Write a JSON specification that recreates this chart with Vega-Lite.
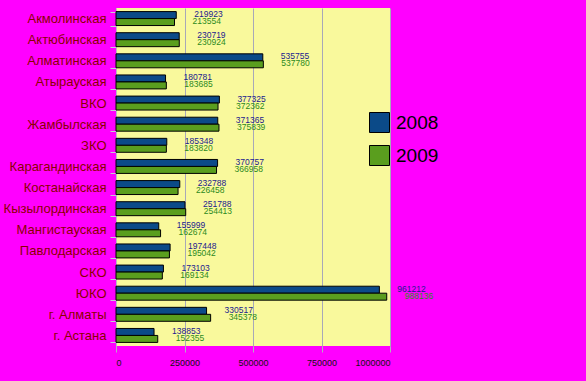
{
  "$schema": "https://vega.github.io/schema/vega-lite/v6.json",
  "autosize": "none",
  "width": 274,
  "height": 338,
  "padding": {"left": 116, "top": 8, "right": 196, "bottom": 35},
  "background": "#ff00ff",
  "view": {"fill": "#f9f99c", "stroke": null},
  "data": {"values": [
    {"region": "Акмолинская", "year": "2008", "value": 219923},
    {"region": "Акмолинская", "year": "2009", "value": 213554},
    {"region": "Актюбинская", "year": "2008", "value": 230719},
    {"region": "Актюбинская", "year": "2009", "value": 230924},
    {"region": "Алматинская", "year": "2008", "value": 535755},
    {"region": "Алматинская", "year": "2009", "value": 537780},
    {"region": "Атырауская", "year": "2008", "value": 180781},
    {"region": "Атырауская", "year": "2009", "value": 183685},
    {"region": "ВКО", "year": "2008", "value": 377325},
    {"region": "ВКО", "year": "2009", "value": 372362},
    {"region": "Жамбылская", "year": "2008", "value": 371365},
    {"region": "Жамбылская", "year": "2009", "value": 375839},
    {"region": "ЗКО", "year": "2008", "value": 185348},
    {"region": "ЗКО", "year": "2009", "value": 183820},
    {"region": "Карагандинская", "year": "2008", "value": 370757},
    {"region": "Карагандинская", "year": "2009", "value": 366958},
    {"region": "Костанайская", "year": "2008", "value": 232788},
    {"region": "Костанайская", "year": "2009", "value": 226458},
    {"region": "Кызылординская", "year": "2008", "value": 251788},
    {"region": "Кызылординская", "year": "2009", "value": 254413},
    {"region": "Мангистауская", "year": "2008", "value": 155999},
    {"region": "Мангистауская", "year": "2009", "value": 162674},
    {"region": "Павлодарская", "year": "2008", "value": 197448},
    {"region": "Павлодарская", "year": "2009", "value": 195042},
    {"region": "СКО", "year": "2008", "value": 173103},
    {"region": "СКО", "year": "2009", "value": 169134},
    {"region": "ЮКО", "year": "2008", "value": 961212},
    {"region": "ЮКО", "year": "2009", "value": 988136},
    {"region": "г. Алматы", "year": "2008", "value": 330517},
    {"region": "г. Алматы", "year": "2009", "value": 345378},
    {"region": "г. Астана", "year": "2008", "value": 138853},
    {"region": "г. Астана", "year": "2009", "value": 152355}
  ]},
  "encoding": {
    "y": {
      "field": "region", "type": "nominal", "sort": null, "title": null,
      "scale": {"paddingInner": 0.34, "paddingOuter": 0.17},
      "axis": {
        "labelFont": "Liberation Sans", "labelFontSize": 13, "labelColor": "#8b0000",
        "labelPadding": 4, "tickBand": "extent", "tickSize": 6, "tickColor": "#c8c8d8",
        "domainColor": "#b8b8c8", "grid": false
      }
    },
    "yOffset": {"field": "year", "type": "nominal"},
    "x": {
      "field": "value", "type": "quantitative", "title": null,
      "scale": {"domain": [0, 1000000], "nice": false},
      "axis": {
        "values": [0, 250000, 500000, 750000, 1000000], "format": "d",
        "labelFont": "Liberation Sans", "labelFontSize": 9, "labelColor": "#111111",
        "labelPadding": 6, "tickSize": 6, "tickColor": "#b0b0c0", "domain": false,
        "grid": true, "gridColor": "#a8a8b8", "gridOpacity": 1
      }
    }
  },
  "layer": [
    {
      "mark": {"type": "bar", "stroke": "#000000", "strokeWidth": 1},
      "encoding": {
        "color": {
          "field": "year", "type": "nominal",
          "scale": {"range": ["#0b4a88", "#5a9e1e"]},
          "legend": {
            "title": null, "orient": "none", "legendX": 253, "legendY": 104,
            "symbolType": "square", "symbolSize": 400, "symbolStrokeColor": "#000000",
            "symbolStrokeWidth": 1, "symbolOpacity": 1, "rowPadding": 8, "padding": 0,
            "labelFont": "Liberation Sans", "labelFontSize": 19, "labelColor": "#000000",
            "labelOffset": 6
          }
        }
      }
    },
    {
      "mark": {"type": "text", "align": "left", "baseline": "middle", "dx": 18, "dy": -1, "font": "Liberation Sans", "fontSize": 8.5},
      "encoding": {
        "text": {"field": "value", "type": "quantitative", "format": "d"},
        "color": {
          "field": "year", "type": "nominal",
          "scale": {"range": ["#1b1b8f", "#2c8a1c"]},
          "legend": null
        }
      }
    }
  ],
  "resolve": {"scale": {"color": "independent"}}
}
